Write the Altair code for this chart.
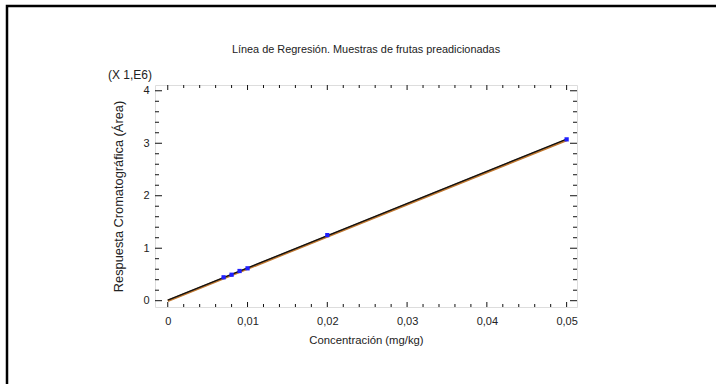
import altair as alt
import pandas as pd

# Data
conc = [0.007, 0.008, 0.009, 0.010, 0.020, 0.050]
area = [446000, 495000, 566000, 617000, 1250000, 3074000]

x_major = [0.0, 0.01, 0.02, 0.03, 0.04, 0.05]
x_minor = [0.002, 0.004, 0.006, 0.008, 0.012, 0.014, 0.016, 0.018,
           0.022, 0.024, 0.026, 0.028, 0.032, 0.034, 0.036, 0.038,
           0.042, 0.044, 0.046, 0.048]
y_major = [0, 1000000, 2000000, 3000000, 4000000]
y_minor = [200000, 400000, 600000, 800000, 1200000, 1400000, 1600000, 1800000,
           2200000, 2400000, 2600000, 2800000, 3200000, 3400000, 3600000, 3800000]

title_text = "Línea de Regresión. Muestras de frutas preadicionadas"
exp_text = "(X 1,E6)"

W, H = 422, 222
FONT = "Liberation Sans"
XDOM = [-0.0016, 0.0513]
YDOM = [-120000, 4110000]

df = pd.DataFrame({"conc": conc, "area": area})
xs = alt.Scale(domain=XDOM, nice=False, zero=False)
ys = alt.Scale(domain=YDOM, nice=False, zero=False)

x_axis = alt.Axis(values=x_major, title="Concentración (mg/kg)", ticks=False, domain=False,
                  grid=False, labelFont=FONT, labelFontSize=11, labelColor="#222",
                  labelPadding=8, titleFont=FONT, titleFontSize=11.3, titleFontWeight="normal",
                  titleColor="#222", titlePadding=8,
                  labelExpr="replace(format(datum.value, '.2~f'), '.', ',')")
y_axis = alt.Axis(values=y_major, title="Respuesta Cromatográfica (Área)", ticks=False, domain=False,
                  grid=False, labelFont=FONT, labelFontSize=11, labelColor="#222",
                  labelPadding=6, titleFont=FONT, titleFontSize=12.8, titleFontWeight="normal",
                  titleColor="#222", titlePadding=17,
                  labelExpr="format(datum.value / 1000000, 'd')")


def X(f):
    return alt.X(f, scale=xs, axis=x_axis)


def Y(f):
    return alt.Y(f, scale=ys, axis=y_axis)


base = alt.Chart(df)

reg_orange = base.transform_regression("conc", "area", extent=[0, 0.05]).mark_line(
    color="#c07830", strokeWidth=2.4, yOffset=0.8
).encode(x=X("conc:Q"), y=Y("area:Q"))

reg_black = base.transform_regression("conc", "area", extent=[0, 0.05]).mark_line(
    color="#111", strokeWidth=1.4
).encode(x=X("conc:Q"), y=Y("area:Q"))

pts = base.mark_square(color="#1f1fff", size=18, opacity=1).encode(x=X("conc:Q"), y=Y("area:Q"))


def xticks(vals, length):
    d = alt.Chart(pd.DataFrame({"v": vals}))
    bottom = d.mark_rule(color="#111", strokeWidth=1).encode(
        x=X("v:Q"), y=alt.value(H), y2=alt.value(H - length))
    top = d.mark_rule(color="#111", strokeWidth=1).encode(
        x=X("v:Q"), y=alt.value(0), y2=alt.value(length))
    return [bottom, top]


def yticks(vals, length):
    d = alt.Chart(pd.DataFrame({"v": vals}))
    left = d.mark_rule(color="#111", strokeWidth=1).encode(
        y=Y("v:Q"), x=alt.value(0), x2=alt.value(length))
    right = d.mark_rule(color="#111", strokeWidth=1).encode(
        y=Y("v:Q"), x=alt.value(W), x2=alt.value(W - length))
    return [left, right]


exp_label = alt.Chart(pd.DataFrame({"t": [exp_text]})).mark_text(
    font=FONT, fontSize=12, color="#222", align="center", baseline="middle"
).encode(text="t:N", x=alt.value(-25), y=alt.value(-10))

title_label = alt.Chart(pd.DataFrame({"t": [title_text]})).mark_text(
    font=FONT, fontSize=10.9, color="#222", align="center", baseline="middle"
).encode(text="t:N", x=alt.value(W / 2), y=alt.value(-35))

frame = alt.Chart(pd.DataFrame({"t": [0]})).mark_rect(
    fill=None, stroke="#000", strokeWidth=2.5
).encode(x=alt.value(-148), x2=alt.value(W + 200), y=alt.value(-79), y2=alt.value(H + 150))

layers = [reg_orange, reg_black, pts] + xticks(x_major, 5) + xticks(x_minor, 3) \
    + yticks(y_major, 7) + yticks(y_minor, 4) + [exp_label, title_label, frame]

chart = alt.layer(*layers).properties(
    width=W, height=H,
    autosize=alt.AutoSizeParams(type="none"),
    padding={"left": 155, "top": 85, "right": 139, "bottom": 77},
).configure_view(stroke="#111", strokeWidth=1.6).configure(background="white")

chart.save("out.html", embed_options={"renderer": "svg", "actions": False})
